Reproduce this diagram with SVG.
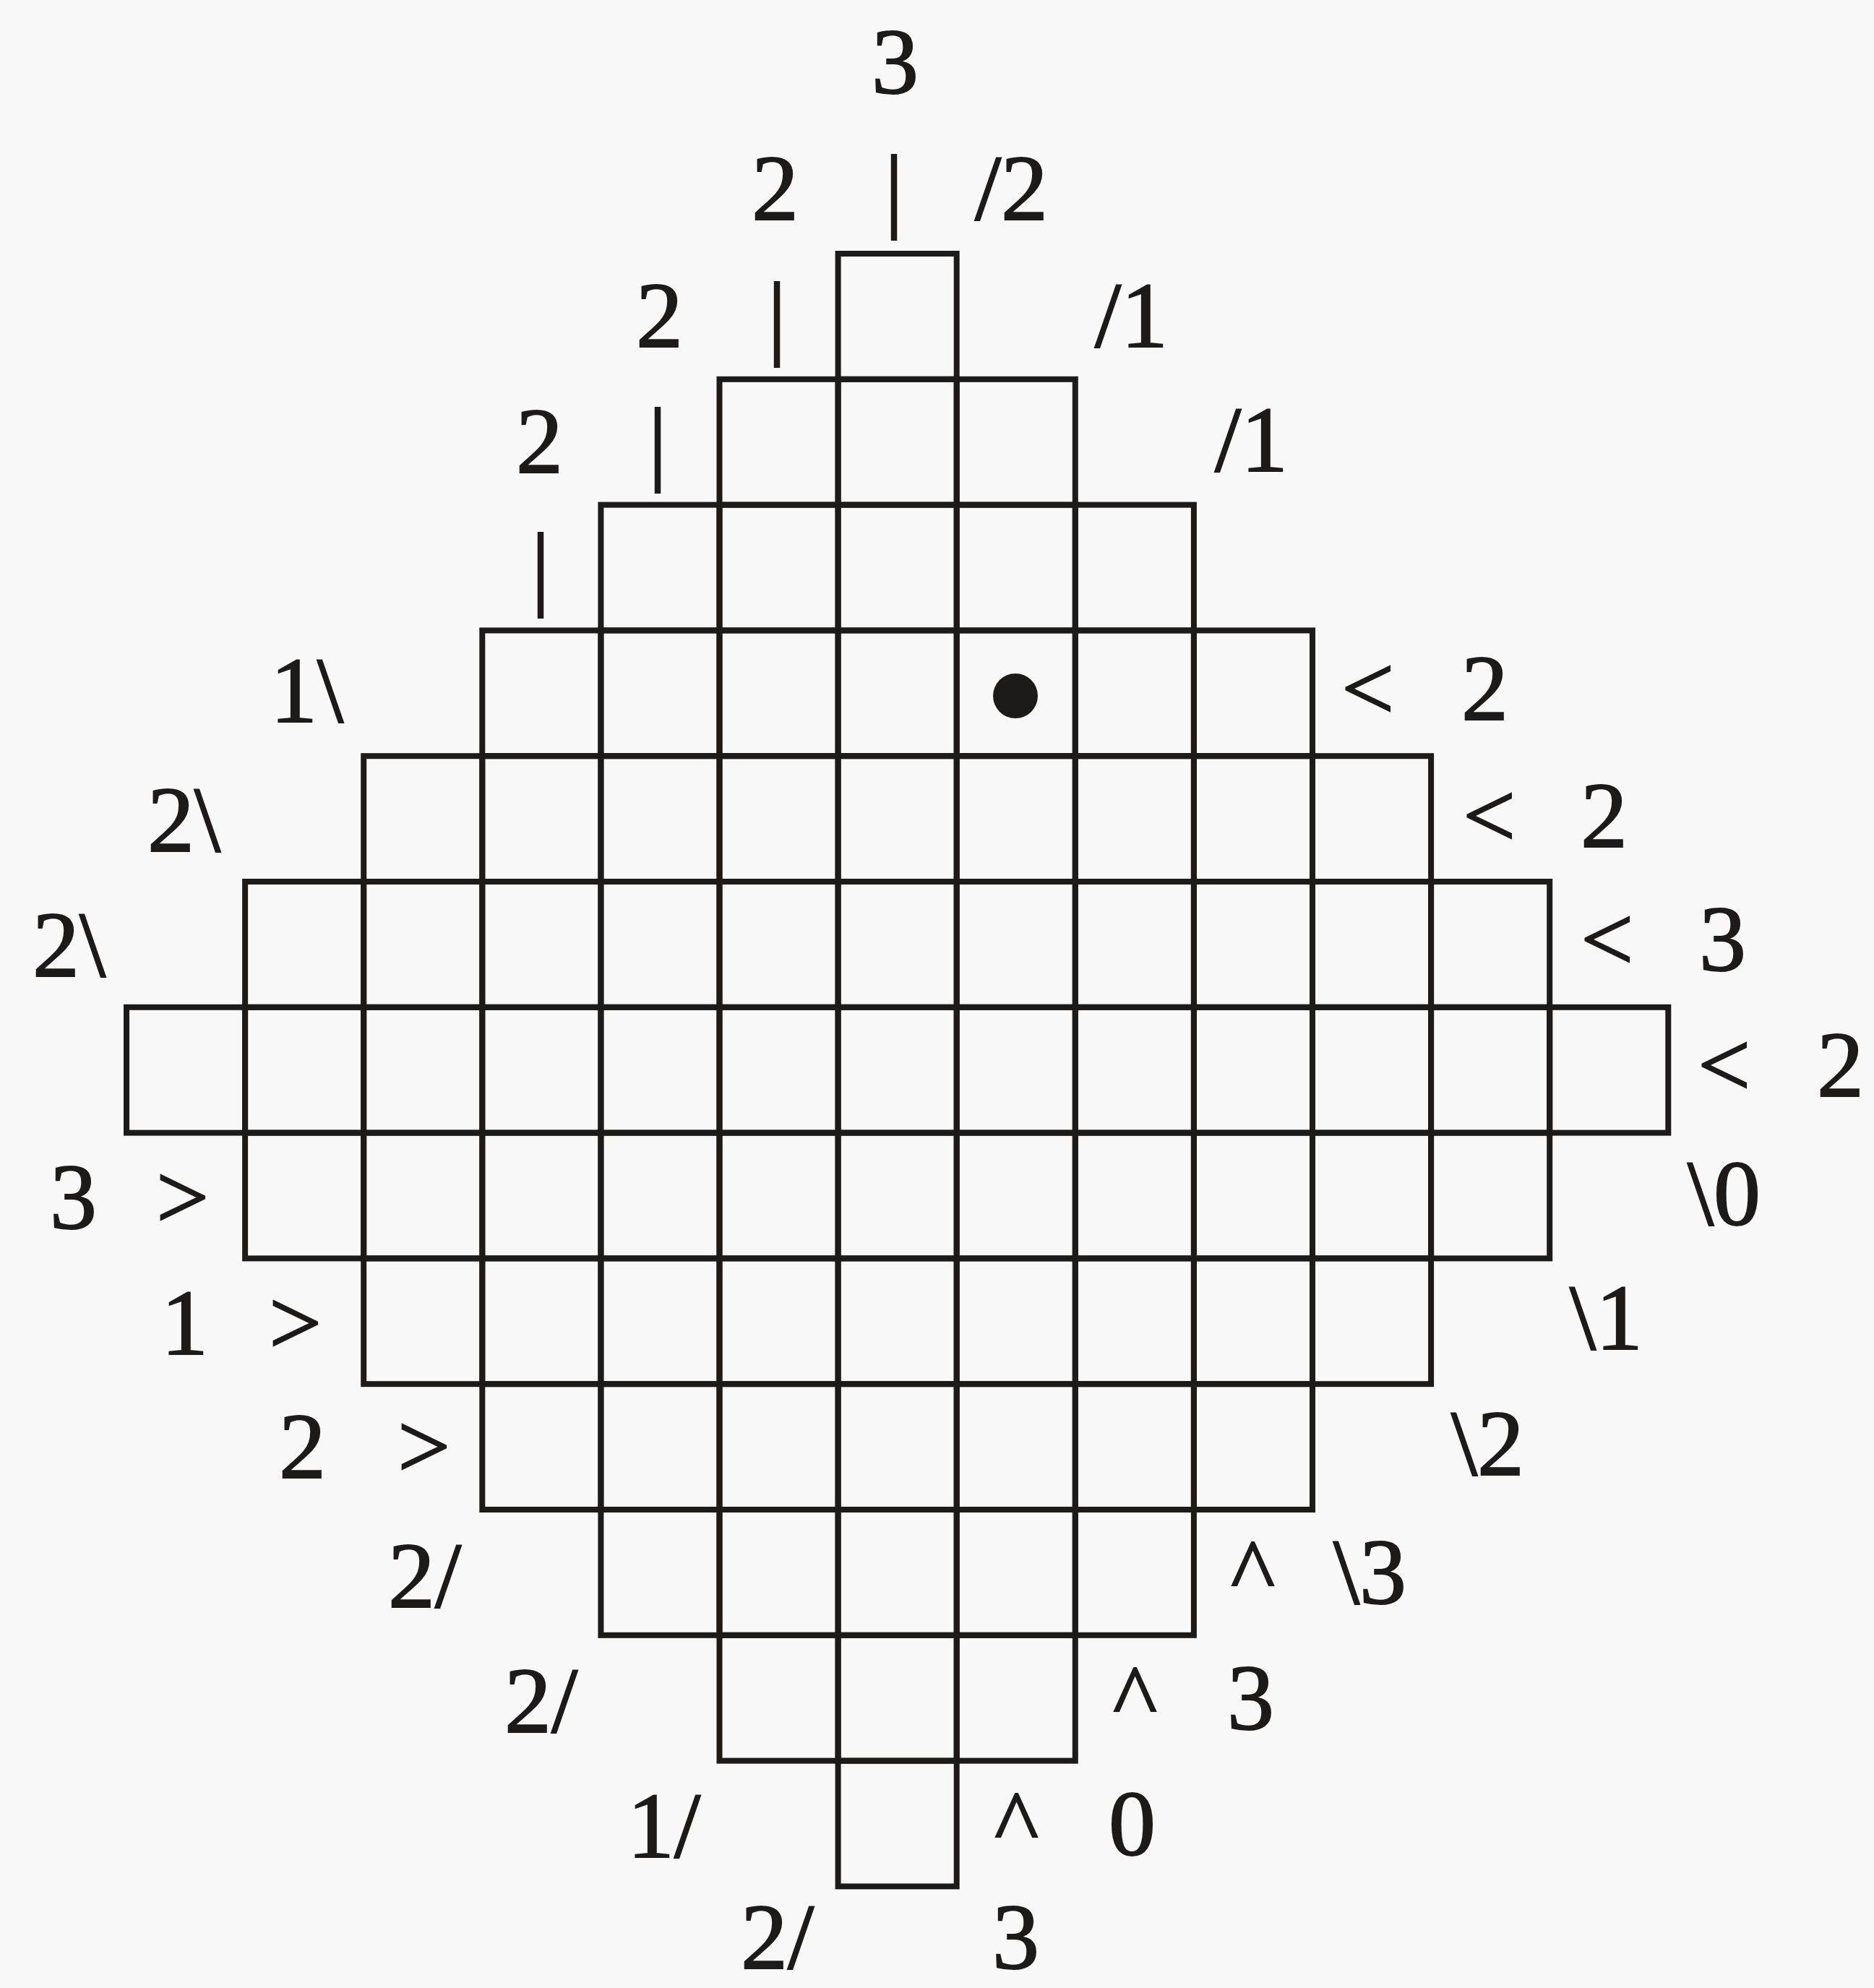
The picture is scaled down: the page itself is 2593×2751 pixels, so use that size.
<svg xmlns="http://www.w3.org/2000/svg" xmlns:xlink="http://www.w3.org/1999/xlink" width="2593" height="2751" viewBox="0 0 2593 2751">
<style>
.cell{fill:none;stroke:#1d1a1a;stroke-width:8;stroke-linejoin:miter}
text{font-family:"Liberation Serif","Times New Roman",serif;font-size:130px;fill:#1d1a1a;stroke:#1d1a1a;stroke-width:2}
.m{text-anchor:middle}
</style>
<defs>
<rect id="c" class="cell" width="164.1" height="173.8"/>
</defs>
<rect x="0" y="0" width="2593" height="2751" fill="#f8f8f8"/>
<g id="grid">
<g id="row0" transform="translate(0,351)"><use xlink:href="#c" href="#c" x="1159.6"/></g>
<g id="row1" transform="translate(0,524.8)"><use href="#c" x="995.5"/><use href="#c" x="1159.6"/><use href="#c" x="1323.7"/></g>
<g id="row2" transform="translate(0,698.6)"><use href="#c" x="831.4"/><use href="#c" x="995.5"/><use href="#c" x="1159.6"/><use href="#c" x="1323.7"/><use href="#c" x="1487.8"/></g>
<g id="row3" transform="translate(0,872.4)"><use href="#c" x="667.3"/><use href="#c" x="831.4"/><use href="#c" x="995.5"/><use href="#c" x="1159.6"/><use href="#c" x="1323.7"/><use href="#c" x="1487.8"/><use href="#c" x="1651.9"/></g>
<g id="row4" transform="translate(0,1046.2)"><use href="#c" x="503.2"/><use href="#c" x="667.3"/><use href="#c" x="831.4"/><use href="#c" x="995.5"/><use href="#c" x="1159.6"/><use href="#c" x="1323.7"/><use href="#c" x="1487.8"/><use href="#c" x="1651.9"/><use href="#c" x="1816"/></g>
<g id="row5" transform="translate(0,1220)"><use href="#c" x="339.1"/><use href="#c" x="503.2"/><use href="#c" x="667.3"/><use href="#c" x="831.4"/><use href="#c" x="995.5"/><use href="#c" x="1159.6"/><use href="#c" x="1323.7"/><use href="#c" x="1487.8"/><use href="#c" x="1651.9"/><use href="#c" x="1816"/><use href="#c" x="1980.1"/></g>
<g id="row6" transform="translate(0,1393.8)"><use href="#c" x="175"/><use href="#c" x="339.1"/><use href="#c" x="503.2"/><use href="#c" x="667.3"/><use href="#c" x="831.4"/><use href="#c" x="995.5"/><use href="#c" x="1159.6"/><use href="#c" x="1323.7"/><use href="#c" x="1487.8"/><use href="#c" x="1651.9"/><use href="#c" x="1816"/><use href="#c" x="1980.1"/><use href="#c" x="2144.2"/></g>
<g id="row7" transform="translate(0,1567.6)"><use href="#c" x="339.1"/><use href="#c" x="503.2"/><use href="#c" x="667.3"/><use href="#c" x="831.4"/><use href="#c" x="995.5"/><use href="#c" x="1159.6"/><use href="#c" x="1323.7"/><use href="#c" x="1487.8"/><use href="#c" x="1651.9"/><use href="#c" x="1816"/><use href="#c" x="1980.1"/></g>
<g id="row8" transform="translate(0,1741.4)"><use href="#c" x="503.2"/><use href="#c" x="667.3"/><use href="#c" x="831.4"/><use href="#c" x="995.5"/><use href="#c" x="1159.6"/><use href="#c" x="1323.7"/><use href="#c" x="1487.8"/><use href="#c" x="1651.9"/><use href="#c" x="1816"/></g>
<g id="row9" transform="translate(0,1915.2)"><use href="#c" x="667.3"/><use href="#c" x="831.4"/><use href="#c" x="995.5"/><use href="#c" x="1159.6"/><use href="#c" x="1323.7"/><use href="#c" x="1487.8"/><use href="#c" x="1651.9"/></g>
<g id="row10" transform="translate(0,2089)"><use href="#c" x="831.4"/><use href="#c" x="995.5"/><use href="#c" x="1159.6"/><use href="#c" x="1323.7"/><use href="#c" x="1487.8"/></g>
<g id="row11" transform="translate(0,2262.8)"><use href="#c" x="995.5"/><use href="#c" x="1159.6"/><use href="#c" x="1323.7"/></g>
<g id="row12" transform="translate(0,2436.6)"><use href="#c" x="1159.6"/></g>
</g>
<circle id="dot" cx="1405" cy="963" r="31" fill="#1d1a1a"/>
<g id="labels-top">
<text x="1206" y="129">3</text>
<text x="1040" y="304">2</text>
<text class="m" x="1237" y="304">|</text>
<text x="1349" y="304">/2</text>
<text x="880" y="480">2</text>
<text class="m" x="1075" y="480">|</text>
<text x="1515" y="480">/1</text>
<text x="714" y="654">2</text>
<text class="m" x="910" y="654">|</text>
<text x="1681" y="652">/1</text>
<text class="m" x="748" y="827">|</text>
</g>
<g id="labels-left">
<text x="374" y="999">1\</text>
<text x="204" y="1178">2\</text>
<text x="45" y="1351">2\</text>
<text x="69" y="1700">3 <tspan x="216">&gt;</tspan></text>
<text x="223" y="1874">1 <tspan x="372">&gt;</tspan></text>
<text x="386" y="2045">2 <tspan x="550">&gt;</tspan></text>
<text x="537" y="2224">2/</text>
<text x="698" y="2397">2/</text>
<text x="868" y="2570">1/</text>
<text x="1025" y="2724">2/</text>
</g>
<g id="labels-right">
<text x="1856" y="996">&lt; <tspan x="2022">2</tspan></text>
<text x="2024" y="1172">&lt; <tspan x="2187">2</tspan></text>
<text x="2187" y="1343">&lt; <tspan x="2351">3</tspan></text>
<text x="2349" y="1517">&lt; <tspan x="2514">2</tspan></text>
<text x="2335" y="1695">\0</text>
<text x="2172" y="1867">\1</text>
<text x="2008" y="2041">\2</text>
<text x="1703" y="2219">^ <tspan x="1845">\3</tspan></text>
<text x="1540" y="2393">^ <tspan x="1698">3</tspan></text>
<text x="1376" y="2567">^ <tspan x="1534">0</tspan></text>
<text x="1373" y="2724">3</text>
</g>
</svg>
